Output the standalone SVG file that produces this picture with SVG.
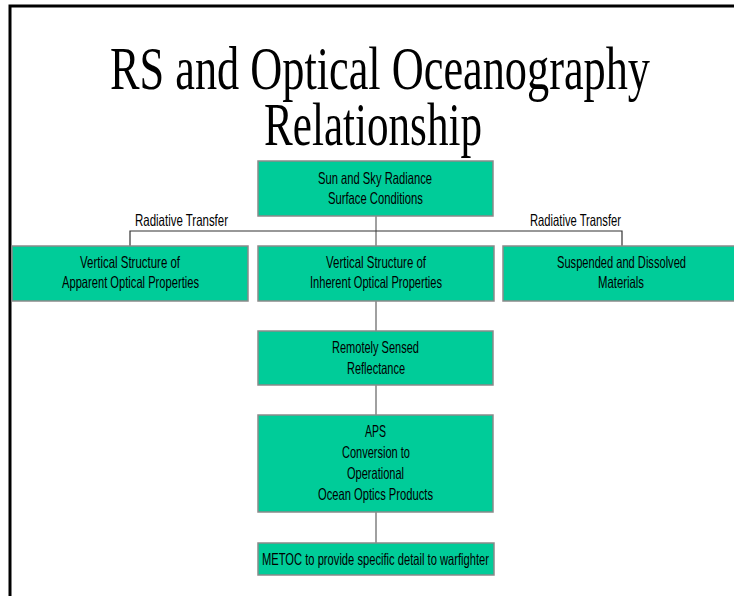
<svg xmlns="http://www.w3.org/2000/svg" width="734" height="596" viewBox="0 0 734 596">
  <style>
    .box { fill: #00cc99; stroke: #8a8a8a; stroke-width: 1.5; }
    .lbl { font-family: "Liberation Sans", Arial, sans-serif; font-size: 16.5px; fill: #000; }
    .title { font-family: "Liberation Serif", "Times New Roman", serif; font-size: 62px; fill: #000; }
    .tree { stroke: #333; stroke-width: 1.2; fill: none; }
    .stem { stroke: #808080; stroke-width: 1.5; fill: none; }
  </style>
  <rect width="734" height="596" fill="#ffffff"/>
  <!-- slide frame -->
  <path d="M10 596 V6 H734" fill="none" stroke="#000" stroke-width="3"/>

  <!-- title -->
  <g id="title">
    <text class="title" x="110" y="89" textLength="540" lengthAdjust="spacingAndGlyphs">RS and Optical Oceanography</text>
    <text class="title" x="264" y="145" textLength="218" lengthAdjust="spacingAndGlyphs">Relationship</text>
  </g>

  <!-- connectors -->
  <g id="connectors">
    <path class="stem" d="M376 216 V246"/>
    <path class="tree" d="M130 246 V231 H622 V246"/>
    <path class="stem" d="M376 301 V331"/>
    <path class="stem" d="M376 385 V415"/>
    <path class="stem" d="M376 512 V543"/>
    <text class="lbl" x="135" y="226" textLength="93" lengthAdjust="spacingAndGlyphs">Radiative Transfer</text>
    <text class="lbl" x="530" y="226" textLength="91" lengthAdjust="spacingAndGlyphs">Radiative Transfer</text>
  </g>

  <g id="sun-sky">
    <rect class="box" x="258" y="161" width="235" height="55"/>
    <text class="lbl" x="318" y="184" textLength="114" lengthAdjust="spacingAndGlyphs">Sun and Sky Radiance</text>
    <text class="lbl" x="328" y="204" textLength="95" lengthAdjust="spacingAndGlyphs">Surface Conditions</text>
  </g>

  <g id="apparent-props">
    <rect class="box" x="12" y="246" width="236" height="55"/>
    <text class="lbl" x="80" y="268" textLength="100" lengthAdjust="spacingAndGlyphs">Vertical Structure of</text>
    <text class="lbl" x="62" y="288" textLength="137" lengthAdjust="spacingAndGlyphs">Apparent Optical Properties</text>
  </g>

  <g id="inherent-props">
    <rect class="box" x="258" y="246" width="236" height="55"/>
    <text class="lbl" x="326" y="268" textLength="100" lengthAdjust="spacingAndGlyphs">Vertical Structure of</text>
    <text class="lbl" x="310" y="288" textLength="132" lengthAdjust="spacingAndGlyphs">Inherent Optical Properties</text>
  </g>

  <g id="suspended-materials">
    <rect class="box" x="503" y="246" width="240" height="55"/>
    <text class="lbl" x="557" y="268" textLength="129" lengthAdjust="spacingAndGlyphs">Suspended and Dissolved</text>
    <text class="lbl" x="598" y="288" textLength="46" lengthAdjust="spacingAndGlyphs">Materials</text>
  </g>

  <g id="reflectance">
    <rect class="box" x="258" y="331" width="235" height="54"/>
    <text class="lbl" x="332" y="353" textLength="87" lengthAdjust="spacingAndGlyphs">Remotely Sensed</text>
    <text class="lbl" x="347" y="374" textLength="58" lengthAdjust="spacingAndGlyphs">Reflectance</text>
  </g>

  <g id="aps">
    <rect class="box" x="258" y="415" width="235" height="97"/>
    <text class="lbl" x="365" y="437" textLength="21" lengthAdjust="spacingAndGlyphs">APS</text>
    <text class="lbl" x="342" y="458" textLength="68" lengthAdjust="spacingAndGlyphs">Conversion to</text>
    <text class="lbl" x="347" y="479" textLength="57" lengthAdjust="spacingAndGlyphs">Operational</text>
    <text class="lbl" x="318" y="500" textLength="115" lengthAdjust="spacingAndGlyphs">Ocean Optics Products</text>
  </g>

  <g id="metoc">
    <rect class="box" x="258" y="543" width="236" height="32"/>
    <text class="lbl" x="262" y="565" textLength="227" lengthAdjust="spacingAndGlyphs">METOC to provide specific detail to warfighter</text>
  </g>
</svg>
